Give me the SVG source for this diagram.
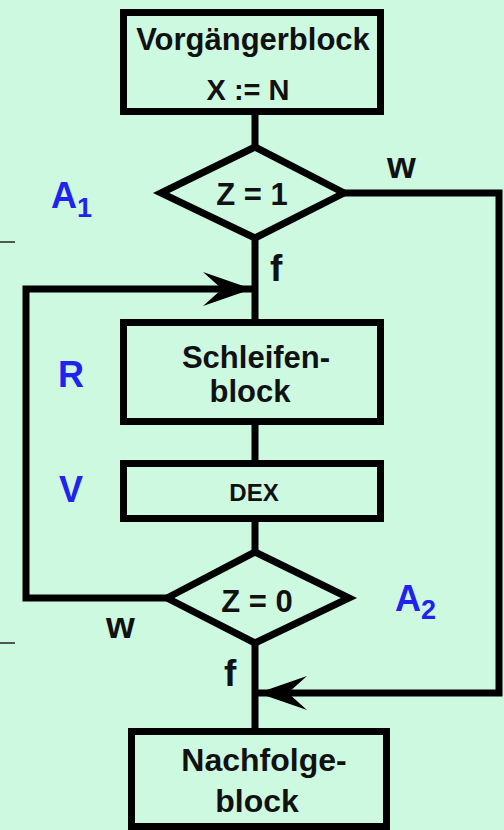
<svg xmlns="http://www.w3.org/2000/svg" width="504" height="830" viewBox="0 0 504 830">
<style>
.box{fill:none;stroke:#000;stroke-width:7;stroke-linejoin:miter}
.con{fill:none;stroke:#000;stroke-width:7;stroke-linejoin:miter}
.t{font-family:"Liberation Sans",Arial,sans-serif;font-weight:bold;fill:#111;text-anchor:middle}
.lbl{font-family:"Liberation Sans",Arial,sans-serif;font-weight:bold;fill:#111}
.blue{font-family:"Liberation Sans",Arial,sans-serif;font-weight:bold;fill:#2222f0}
</style>
<defs>
<marker id="arr" markerUnits="userSpaceOnUse" viewBox="0 0 60 40" markerWidth="60" markerHeight="40" refX="50" refY="20" orient="auto" overflow="visible">
<path d="M50,20 L1,3 L20,20 L1,37 Z" fill="#000"/>
</marker>
</defs>
<rect width="504" height="830" fill="#cdf9e1"/>
<g id="connectors">
<line class="con" x1="255" y1="111" x2="255" y2="148"/>
<line class="con" x1="255" y1="237" x2="255" y2="323"/>
<line class="con" x1="255" y1="421" x2="255" y2="464"/>
<line class="con" x1="255" y1="518" x2="255" y2="553"/>
<line class="con" x1="255" y1="642" x2="255" y2="732"/>
<polyline class="con" points="167,598 26,598 26,289 252,289" marker-end="url(#arr)"/>
<polyline class="con" points="344,193 499,193 499,693 258,693" marker-end="url(#arr)"/>
<line x1="0" y1="242" x2="15" y2="242" stroke="#222" stroke-width="1.5"/>
<line x1="0" y1="643" x2="15" y2="643" stroke="#222" stroke-width="1.5"/>
</g>
<g id="vorgaenger">
<rect class="box" x="123.5" y="12.5" width="257" height="99"/>
<text class="t" x="253" y="50" font-size="31">Vorgängerblock</text>
<text class="t" x="248" y="100" font-size="29">X := N</text>
</g>
<g id="cond1">
<polygon class="box" points="161,193 255,147 344,193 255,238"/>
<text class="t" x="252" y="205" font-size="31">Z = 1</text>
</g>
<g id="schleife">
<rect class="box" x="123.5" y="322.5" width="257" height="99"/>
<text class="t" x="256" y="368" font-size="31">Schleifen-</text>
<text class="t" x="250" y="402" font-size="31">block</text>
</g>
<g id="dex">
<rect class="box" x="123.5" y="463.5" width="257" height="55"/>
<text class="t" x="254" y="501" font-size="24">DEX</text>
</g>
<g id="cond2">
<polygon class="box" points="167,598 255,552 349,598 255,643"/>
<text class="t" x="257" y="612" font-size="31">Z = 0</text>
</g>
<g id="nachfolge">
<rect class="box" x="131.5" y="731.5" width="255" height="95"/>
<text class="t" x="264" y="771" font-size="32">Nachfolge-</text>
<text class="t" x="257" y="812" font-size="32">block</text>
</g>
<g id="labels">
<text class="lbl" x="387" y="178" font-size="37">w</text>
<text class="lbl" x="270" y="281" font-size="37">f</text>
<text class="lbl" x="106" y="638" font-size="37">w</text>
<text class="lbl" x="224" y="686" font-size="37">f</text>
<text class="blue" x="51" y="208" font-size="36">A</text>
<text class="blue" x="77" y="217" font-size="27">1</text>
<text class="blue" x="395" y="611" font-size="36">A</text>
<text class="blue" x="421" y="619" font-size="27">2</text>
<text class="blue" x="58" y="387" font-size="36">R</text>
<text class="blue" x="59" y="502" font-size="36">V</text>
</g>
</svg>
